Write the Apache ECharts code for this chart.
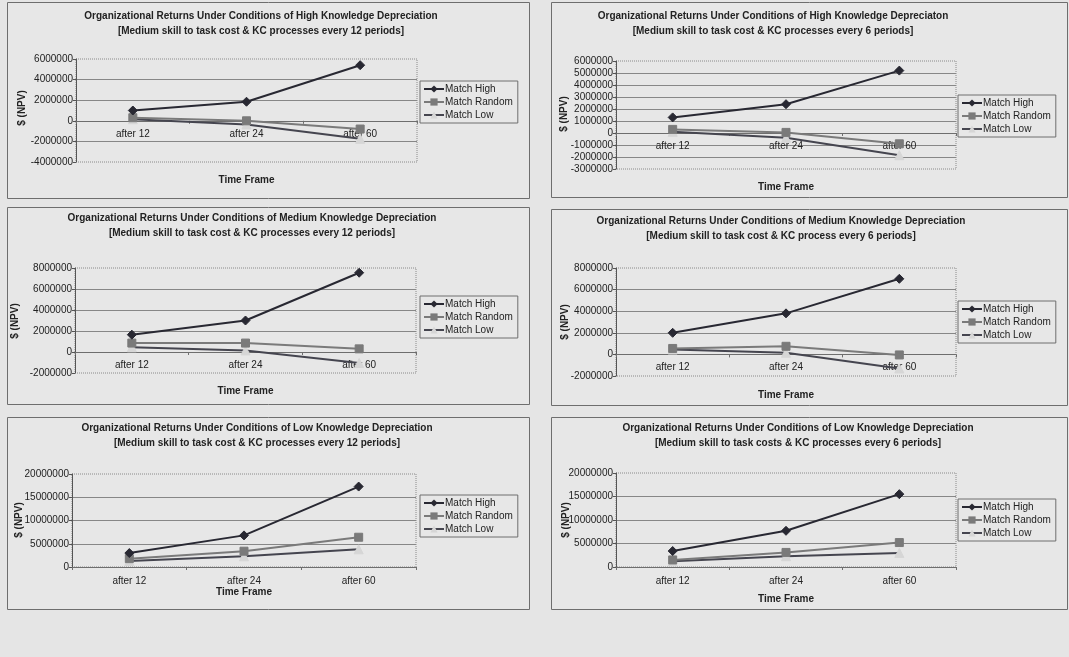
<!DOCTYPE html>
<html>
<head>
<meta charset="utf-8">
<script src="https://cdn.jsdelivr.net/npm/echarts@6/dist/echarts.min.js"></script>
<style>
  html, body { margin: 0; padding: 0; background: #e5e5e5; }
  #chart { width: 1069px; height: 657px; }
</style>
</head>
<body>
<div id="chart"></div>
<script>
// Time frames shared by every panel
const categories = ['after 12', 'after 24', 'after 60'];
const seriesNames = ['Match High', 'Match Random', 'Match Low'];

// Panel titles (two lines each)
const titleLines1 = [
  'Organizational Returns Under Conditions of High Knowledge Depreciation',
  'Organizational Returns Under Conditions of High Knowledge Depreciaton',
  'Organizational Returns Under Conditions of Medium Knowledge Depreciation',
  'Organizational Returns Under Conditions of Medium Knowledge Depreciation',
  'Organizational Returns Under Conditions of Low Knowledge Depreciation',
  'Organizational Returns Under Conditions of Low Knowledge Depreciation'
];
const titleLines2 = [
  '[Medium skill to task cost & KC processes every 12 periods]',
  '[Medium skill to task cost & KC processes every 6 periods]',
  '[Medium skill to task cost & KC processes every 12 periods]',
  '[Medium skill to task cost & KC process every 6 periods]',
  '[Medium skill to task cost & KC processes every 12 periods]',
  '[Medium skill to task costs & KC processes every 6 periods]'
];

// NPV values ($) per panel and series
const highDep12High   = [1000000, 1850000, 5400000];
const highDep12Random = [300000, 0, -800000];
const highDep12Low    = [150000, -350000, -1750000];

const highDep6High   = [1300000, 2400000, 5200000];
const highDep6Random = [300000, 50000, -900000];
const highDep6Low    = [100000, -400000, -1850000];

const medDep12High   = [1650000, 3000000, 7550000];
const medDep12Random = [850000, 850000, 300000];
const medDep12Low    = [450000, 150000, -1050000];

const medDep6High   = [2000000, 3800000, 7000000];
const medDep6Random = [550000, 750000, -50000];
const medDep6Low    = [450000, 150000, -1300000];

const lowDep12High   = [3000000, 6800000, 17300000];
const lowDep12Random = [1800000, 3400000, 6400000];
const lowDep12Low    = [1300000, 2300000, 3800000];

const lowDep6High   = [3400000, 7700000, 15500000];
const lowDep6Random = [1500000, 3100000, 5200000];
const lowDep6Low    = [1200000, 2300000, 3000000];

// Y axis ranges per panel: [min, max, interval]
const yRanges = [
  [-4000000, 6000000, 2000000],
  [-3000000, 6000000, 1000000],
  [-2000000, 8000000, 2000000],
  [-2000000, 8000000, 2000000],
  [0, 20000000, 5000000],
  [0, 20000000, 5000000]
];

const panelData = [
  [highDep12High, highDep12Random, highDep12Low],
  [highDep6High, highDep6Random, highDep6Low],
  [medDep12High, medDep12Random, medDep12Low],
  [medDep6High, medDep6Random, medDep6Low],
  [lowDep12High, lowDep12Random, lowDep12Low],
  [lowDep6High, lowDep6Random, lowDep6Low]
];

// Layout of each panel
const layout = [
  { box: [7, 2, 522, 196],   grid: [76, 59, 341, 103],  legend: [420, 81],  title: [261, 8.5],   tf: 180, yName: [22, 108] },
  { box: [551, 2, 516, 195], grid: [616, 61, 340, 108], legend: [958, 95],  title: [773, 9],     tf: 187, yName: [564, 114] },
  { box: [7, 207, 522, 197], grid: [75, 268, 341, 105], legend: [420, 296], title: [252, 210.5], tf: 391, yName: [15, 321] },
  { box: [551, 209, 516, 196], grid: [616, 268, 340, 108], legend: [958, 301], title: [781, 213.5], tf: 395, yName: [565, 322] },
  { box: [7, 417, 522, 192], grid: [72, 474, 344, 93],  legend: [420, 495], title: [257, 420.5], tf: 592, yName: [19, 520] },
  { box: [551, 417, 516, 192], grid: [616, 473, 340, 94], legend: [958, 499], title: [798, 420.5], tf: 599, yName: [566, 520] }
];

const FONT = '"Liberation Sans", Arial, sans-serif';
const seriesStyles = [
  { symbol: 'diamond', symbolSize: 9, line: '#282832', item: '#282832' },
  { symbol: 'rect', symbolSize: 8, line: '#7a7a7a', item: '#7a7a7a' },
  { symbol: 'triangle', symbolSize: 9, line: '#45454f', item: '#d6d6d6' }
];

const grid = [], xAxis = [], yAxis = [], series = [], legend = [], title = [], graphic = [];

layout.forEach((L, i) => {
  graphic.push({
    type: 'rect', z: -10,
    shape: { x: L.box[0] + 0.5, y: L.box[1] + 0.5, width: L.box[2], height: L.box[3] },
    style: { fill: '#e7e7e7', stroke: '#6e6e6e', lineWidth: 1 }
  });
  graphic.push({
    type: 'text', x: L.yName[0], y: L.yName[1], rotation: Math.PI / 2,
    style: { text: '$ (NPV)', font: 'bold 10px ' + FONT, fill: '#222', align: 'center', verticalAlign: 'middle' }
  });

  grid.push({
    left: L.grid[0], top: L.grid[1], width: L.grid[2], height: L.grid[3],
    show: true, borderColor: '#8a8a8a', borderWidth: 1, borderType: 'dotted',
    backgroundColor: 'transparent'
  });

  const r = yRanges[i];
  // The category axis crosses the value axis at zero, labels included
  const zeroOffset = -L.grid[3] * (0 - r[0]) / (r[1] - r[0]);

  xAxis.push({
    type: 'category', gridIndex: i, data: categories, boundaryGap: true,
    position: 'bottom', offset: zeroOffset,
    axisLine: { onZero: false, lineStyle: { color: '#6e6e6e', width: 1 } },
    axisTick: { show: true, length: 3, lineStyle: { color: '#6e6e6e' } },
    axisLabel: { color: '#222', fontSize: 10, fontFamily: FONT, margin: i >= 4 ? 9 : 8 },
    splitLine: { show: false }
  });

  yAxis.push({
    type: 'value', gridIndex: i, min: r[0], max: r[1], interval: r[2],
    axisLine: { show: true, lineStyle: { color: '#555', width: 1 } },
    axisTick: { show: true, length: 3, lineStyle: { color: '#555' } },
    axisLabel: { color: '#222', fontSize: 10, fontFamily: FONT, margin: 3, formatter: v => String(v) },
    splitLine: { show: true, showMinLine: false, showMaxLine: false, lineStyle: { color: '#878787', width: 1 } }
  });

  panelData[i].forEach((vals, s) => {
    const st = seriesStyles[s];
    series.push({
      type: 'line', name: seriesNames[s], xAxisIndex: i, yAxisIndex: i, data: vals,
      symbol: st.symbol, symbolSize: st.symbolSize, showSymbol: true,
      lineStyle: { color: st.line, width: 2 },
      itemStyle: { color: st.item, borderColor: st.item },
      z: 3 - s, animation: false
    });
  });

  legend.push({
    left: L.legend[0], top: L.legend[1], orient: 'vertical',
    data: seriesNames,
    backgroundColor: '#e7e7e7', borderColor: '#6e6e6e', borderWidth: 1,
    padding: [3, 5, 3, 3], itemGap: 3, itemWidth: 20, itemHeight: 9,
    textStyle: { fontSize: 10, fontFamily: FONT, color: '#222', padding: [0, 0, 0, -4] },
    selectedMode: false
  });

  title.push({
    text: titleLines1[i] + '\n' + titleLines2[i],
    left: L.title[0], top: L.title[1], textAlign: 'center', padding: 0,
    textStyle: { fontSize: 10, fontWeight: 'bold', fontFamily: FONT, color: '#222', lineHeight: 15 }
  });
  title.push({
    text: 'Time Frame',
    left: L.grid[0] + L.grid[2] / 2, top: L.tf - 6, textAlign: 'center', padding: 0,
    textStyle: { fontSize: 10, fontWeight: 'bold', fontFamily: FONT, color: '#222', lineHeight: 12 }
  });
});

const chart = echarts.init(document.getElementById('chart'), null, { renderer: 'canvas' });
chart.setOption({
  backgroundColor: '#e5e5e5',
  animation: false,
  title, grid, xAxis, yAxis, series, legend, graphic
});
</script>
</body>
</html>
